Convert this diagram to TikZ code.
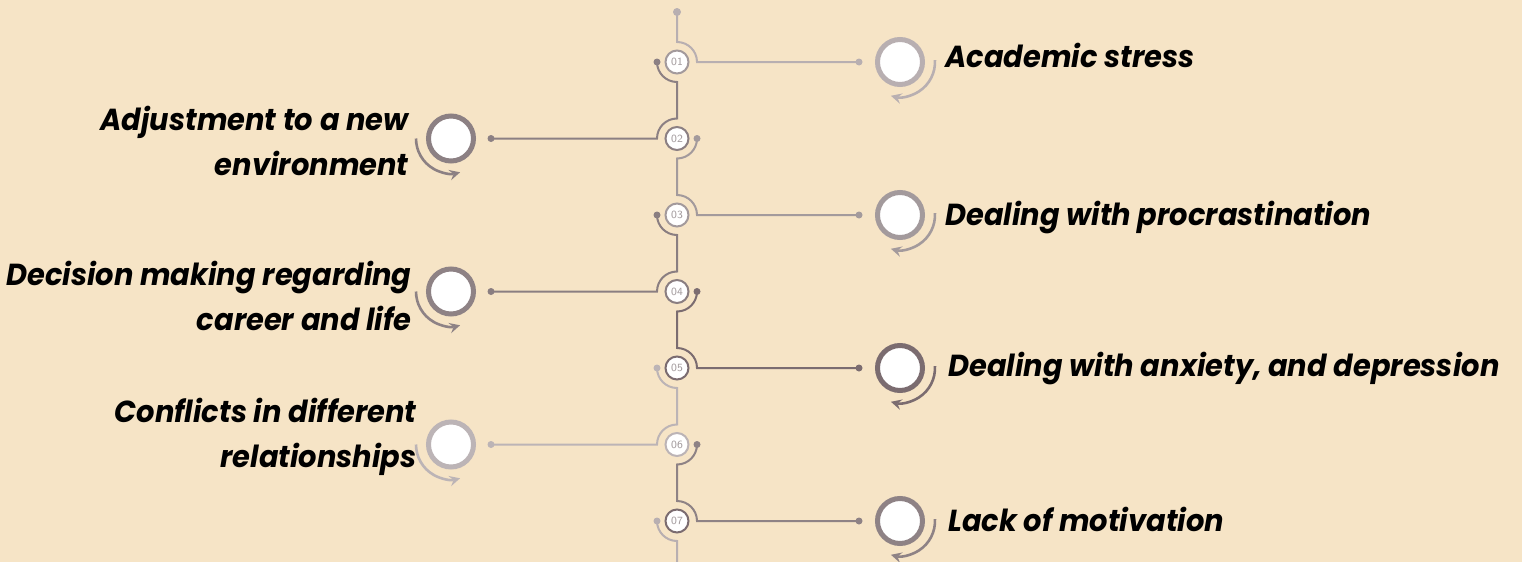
\documentclass[tikz,border=0pt]{standalone}
\usepackage{fontspec}
\setmainfont{Poppins}[FakeStretch=0.95]
\usetikzlibrary{arrows,calc}
\definecolor{bgbeige}{HTML}{F6E4C6}
\definecolor{greyA}{HTML}{B8AFB1}
\definecolor{greyB}{HTML}{8C8083}
\definecolor{greyC}{HTML}{A39A9C}
\definecolor{greyD}{HTML}{8A7E81}
\definecolor{greyE}{HTML}{7B6C70}
\definecolor{greyF}{HTML}{BCB4B6}
\definecolor{greyG}{HTML}{8E8285}
\definecolor{numgrey}{HTML}{A39B9D}

\begin{document}
\begin{tikzpicture}[x=0.5pt,y=-0.5pt,>=stealth,
    link/.style={line width=1pt},
    numc/.style={circle,draw,line width=1pt,fill=white,minimum size=11.5pt,inner sep=0pt,font=\sffamily\fontsize{5.5}{6}\selectfont,text=numgrey},
    ring/.style={circle,draw,line width=2.5pt,fill=white,minimum size=22.5pt,inner sep=0pt},
    turn/.style={line width=1.3pt,->},
    lbl/.style={font=\bfseries\itshape\fontsize{15.2}{22.5}\selectfont,inner sep=0pt}]
        \useasboundingbox (0,0) rectangle (1522,562);
        \fill[bgbeige] (0,0) rectangle (1522,562);
        % spine nodes
        \node[numc,draw=greyC] (n1) at (677,62) {01};
        \node[numc,draw=greyB] (n2) at (677,138.5) {02};
        \node[numc,draw=greyC] (n3) at (677,215) {03};
        \node[numc,draw=greyD] (n4) at (677,291.5) {04};
        \node[numc,draw=greyE] (n5) at (677,368) {05};
        \node[numc,draw=greyF] (n6) at (677,444.5) {06};
        \node[numc,draw=greyE] (n7) at (677,521) {07};
        \coordinate (top) at (677,12);
        \coordinate (bot) at (677,570);
        \coordinate (d1) at (859,62);
        \coordinate (d2) at (491,138.5);
        \coordinate (d3) at (859,215);
        \coordinate (d4) at (491,291.5);
        \coordinate (d5) at (859,368);
        \coordinate (d6) at (491,444.5);
        \coordinate (d7) at (859,521);
        % big circles
        \node[ring,draw=greyA] (c1) at (900,62) {};
        \node[ring,draw=greyB] (c2) at (451,138.5) {};
        \node[ring,draw=greyC] (c3) at (900,215) {};
        \node[ring,draw=greyG] (c4) at (451,291.5) {};
        \node[ring,draw=greyE] (c5) at (900,368) {};
        \node[ring,draw=greyF] (c6) at (451,444.5) {};
        \node[ring,draw=greyG] (c7) at (900,521) {};
        % connectors
        \draw[link,greyA] (top) -- ($(n1)+(0,-20)$) arc[start angle=270,end angle=360,radius=20] -- (d1);
        \draw[link,greyB] ($(n1)+(-20,0)$) arc[start angle=180,end angle=90,radius=20] -- ($(n2)+(0,-20)$) arc[start angle=270,end angle=180,radius=20] -- (d2);
        \draw[link,greyC] ($(n2)+(20,0)$) arc[start angle=0,end angle=90,radius=20] -- ($(n3)+(0,-20)$) arc[start angle=270,end angle=360,radius=20] -- (d3);
        \draw[link,greyD] ($(n3)+(-20,0)$) arc[start angle=180,end angle=90,radius=20] -- ($(n4)+(0,-20)$) arc[start angle=270,end angle=180,radius=20] -- (d4);
        \draw[link,greyE] ($(n4)+(20,0)$) arc[start angle=0,end angle=90,radius=20] -- ($(n5)+(0,-20)$) arc[start angle=270,end angle=360,radius=20] -- (d5);
        \draw[link,greyF] ($(n5)+(-20,0)$) arc[start angle=180,end angle=90,radius=20] -- ($(n6)+(0,-20)$) arc[start angle=270,end angle=180,radius=20] -- (d6);
        \draw[link,greyG] ($(n6)+(20,0)$) arc[start angle=0,end angle=90,radius=20] -- ($(n7)+(0,-20)$) arc[start angle=270,end angle=360,radius=20] -- (d7);
        \draw[link,greyA] ($(n7)+(-20,0)$) arc[start angle=180,end angle=90,radius=20] -- (bot);
        % dots
        \fill[greyA] (top) circle (4) (d1) circle (3.5) ($(n7)+(-20,0)$) circle (3.5);
        \fill[greyB] ($(n1)+(-20,0)$) circle (3.5) (d2) circle (3.5);
        \fill[greyC] ($(n2)+(20,0)$) circle (3.5) (d3) circle (3.5);
        \fill[greyD] ($(n3)+(-20,0)$) circle (3.5) (d4) circle (3.5);
        \fill[greyE] ($(n4)+(20,0)$) circle (3.5) (d5) circle (3.5);
        \fill[greyF] ($(n5)+(-20,0)$) circle (3.5) (d6) circle (3.5);
        \fill[greyG] ($(n6)+(20,0)$) circle (3.5) (d7) circle (3.5);
        % turning arrows
        \draw[turn,greyA] (c1) ++(-3:35) arc[start angle=-3,end angle=105,radius=35];
        \draw[turn,greyB] (c2) ++(180:35) arc[start angle=180,end angle=75,radius=35];
        \draw[turn,greyC] (c3) ++(-3:35) arc[start angle=-3,end angle=105,radius=35];
        \draw[turn,greyG] (c4) ++(180:35) arc[start angle=180,end angle=75,radius=35];
        \draw[turn,greyE] (c5) ++(-3:35) arc[start angle=-3,end angle=105,radius=35];
        \draw[turn,greyF] (c6) ++(180:35) arc[start angle=180,end angle=75,radius=35];
        \draw[turn,greyG] (c7) ++(-3:35) arc[start angle=-3,end angle=105,radius=35];
        % labels
        \node[lbl,anchor=base west] (t1) at (945,68) {Academic stress};
        \node[lbl,anchor=east,align=right] (t2) at (409,141) {Adjustment to a new\\environment};
        \node[lbl,anchor=base west] (t3) at (945,225) {Dealing with procrastination};
        \node[lbl,anchor=east,align=right] (t4) at (412,296) {Decision making regarding\\career and life};
        \node[lbl,anchor=base west] (t5) at (948,376) {Dealing with anxiety, and depression};
        \node[lbl,anchor=east,align=right] (t6) at (417,437) {Conflicts in different\\relationships};
        \node[lbl,anchor=base west] (t7) at (948,531) {Lack of motivation};
\end{tikzpicture}
\end{document}
